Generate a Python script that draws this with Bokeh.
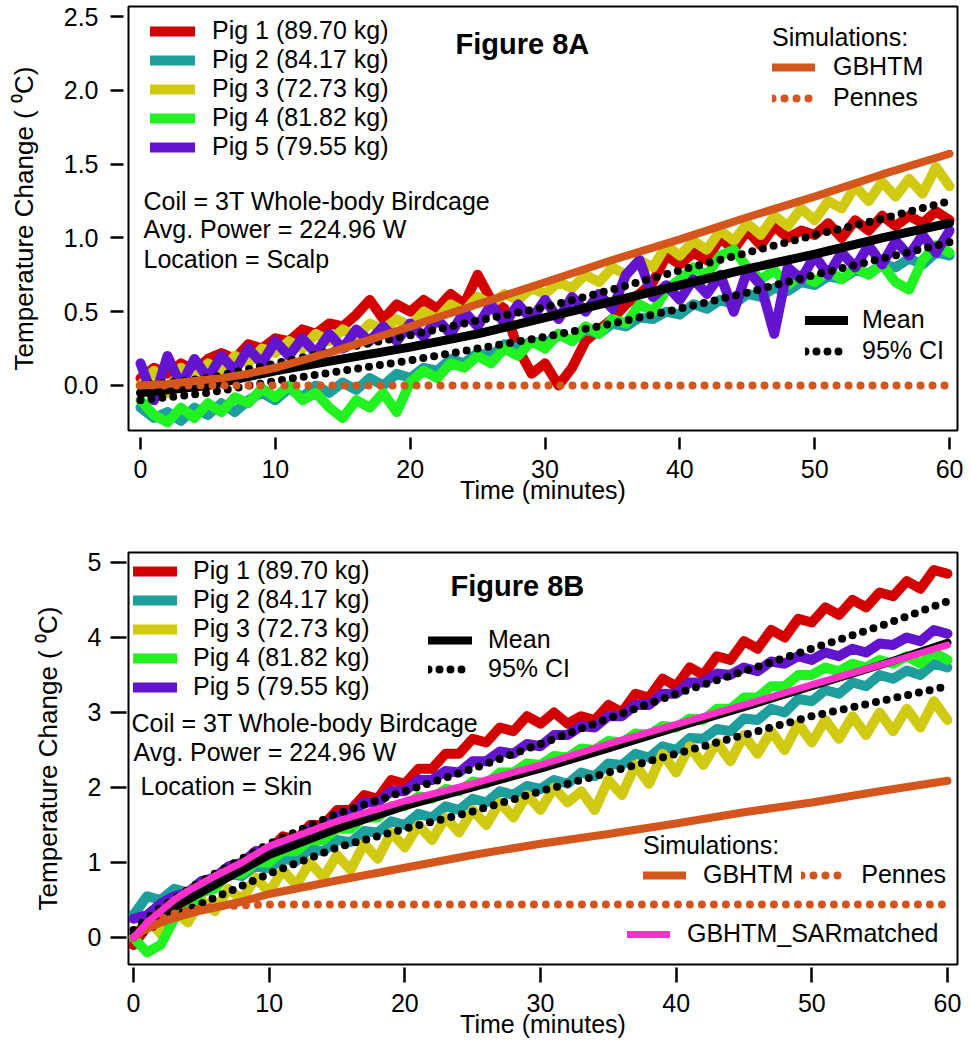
from bokeh.plotting import figure
from bokeh.models import Range1d, FixedTicker, PrintfTickFormatter, Legend, LegendItem, Label
from bokeh.layouts import column
from bokeh.embed import file_html
from bokeh.resources import INLINE

FONT = "Liberation Sans"

# ---------------- data: Figure 8A (scalp) ----------------
minutes = list(range(61))

a_pig1 = [0.05,0.12,0.08,0.15,0.10,0.18,0.22,0.18,0.28,0.25, 0.32,0.30,0.38,0.35,0.42,0.40,0.48,0.58,0.45,0.55,
          0.50,0.58,0.52,0.62,0.55,0.75,0.58,0.52,0.25,0.08, 0.15,0.0,0.12,0.30,0.38,0.45,0.55,0.62,0.70,0.88,
          0.82,0.90,0.85,1.0,0.92,1.05,0.95,1.08,1.0,1.05, 1.02,1.1,1.0,1.12,1.05,1.15,1.08,1.15,1.1,1.18, 1.12]
a_pig2 = [-0.15,-0.22,-0.18,-0.24,-0.15,-0.2,-0.12,-0.18,-0.1,-0.05, -0.1,-0.02,-0.08,0.0,-0.05,0.02,-0.03,0.05,0.0,0.08,
          0.05,0.12,0.1,0.18,0.15,0.22,0.2,0.28,0.25,0.3, 0.28,0.35,0.3,0.38,0.35,0.42,0.4,0.46,0.45,0.5,
          0.48,0.55,0.52,0.58,0.55,0.62,0.6,0.66,0.64,0.7, 0.68,0.74,0.72,0.78,0.76,0.82,0.8,0.86,0.82,0.9, 0.88]
a_pig3 = [0.0,0.1,-0.05,0.12,0.05,0.15,0.1,0.2,0.15,0.25, 0.22,0.3,0.25,0.35,0.3,0.38,0.33,0.42,0.38,0.45,
          0.4,0.5,0.45,0.55,0.5,0.6,0.55,0.62,0.58,0.66, 0.62,0.7,0.66,0.75,0.7,0.8,0.75,0.85,0.8,0.95,
          0.88,0.98,0.92,1.05,0.98,1.1,1.02,1.15,1.08,1.2, 1.12,1.25,1.2,1.35,1.25,1.38,1.28,1.4,1.3,1.48, 1.35]
a_pig4 = [-0.1,-0.2,-0.25,-0.15,-0.22,-0.12,-0.18,-0.08,-0.12,-0.02, -0.08,0.0,-0.1,-0.05,-0.15,-0.22,-0.1,-0.15,-0.05,-0.18,
          0.02,0.1,0.05,0.15,0.12,0.2,0.15,0.25,0.2,0.3, 0.25,0.35,0.3,0.4,0.35,0.45,0.42,0.55,0.5,0.65,
          0.72,0.8,0.75,0.88,0.92,0.8,0.72,0.78,0.68,0.75, 0.7,0.78,0.72,0.8,0.75,0.82,0.7,0.65,0.85,0.95, 0.9]
a_pig5 = [0.15,-0.1,0.2,0.0,0.18,0.05,0.2,0.1,0.25,0.15, 0.3,0.2,0.32,0.22,0.35,0.25,0.38,0.3,0.4,0.3,
          0.42,0.33,0.45,0.35,0.5,0.4,0.55,0.42,0.55,0.45, 0.58,0.45,0.6,0.5,0.62,0.52,0.75,0.85,0.6,0.68,
          0.58,0.72,0.62,0.75,0.5,0.78,0.68,0.35,0.8,0.72, 0.88,0.75,0.9,0.8,0.95,0.82,0.98,0.88,1.02,0.9, 1.05]

a_stat_t = [0, 5, 10, 15, 20, 25, 30, 35, 40, 45, 50, 55, 60]
a_mean   = [-0.05, 0.0, 0.1, 0.18, 0.26, 0.35, 0.46, 0.57, 0.68, 0.79, 0.89, 1.0, 1.1]
a_ci_hi  = [0.0, 0.05, 0.15, 0.25, 0.34, 0.44, 0.53, 0.65, 0.78, 0.9, 1.02, 1.13, 1.25]
a_ci_lo  = [-0.1, -0.05, 0.03, 0.1, 0.17, 0.25, 0.33, 0.42, 0.52, 0.63, 0.75, 0.86, 0.97]

a_sim_t  = [0, 2, 4, 6, 8, 10, 15, 20, 25, 30, 35, 40, 45, 50, 55, 60]
a_gbhtm  = [0.0, 0.01, 0.03, 0.05, 0.08, 0.12, 0.25, 0.4, 0.55, 0.7, 0.85, 0.99, 1.14, 1.28, 1.43, 1.57]
a_pennes = [0.0, 0.0, 0.0, 0.0, 0.0, 0.0, 0.0, 0.0, 0.0, 0.0, 0.0, 0.0, 0.0, 0.0, 0.0, 0.0]

# ---------------- data: Figure 8B (skin) ----------------
b_pig1 = [-0.1,0.15,0.25,0.45,0.5,0.7,0.75,0.9,0.95,1.15, 1.15,1.35,1.3,1.5,1.5,1.7,1.7,1.9,1.85,2.1,
          2.05,2.25,2.25,2.45,2.45,2.65,2.6,2.8,2.75,2.95, 2.85,3.0,2.85,2.95,2.9,3.1,3.0,3.25,3.2,3.45,
          3.35,3.6,3.5,3.75,3.7,3.95,3.85,4.1,4.0,4.25, 4.2,4.4,4.3,4.5,4.4,4.6,4.55,4.75,4.65,4.9, 4.85]
b_pig2 = [0.3,0.55,0.5,0.65,0.6,0.75,0.72,0.85,0.82,0.95, 0.92,1.05,1.02,1.18,1.15,1.3,1.27,1.42,1.4,1.55,
          1.5,1.65,1.6,1.75,1.7,1.85,1.8,1.95,1.9,2.02, 1.98,2.1,2.05,2.2,2.15,2.32,2.3,2.45,2.4,2.55,
          2.5,2.66,2.65,2.78,2.75,2.92,2.9,3.05,3.0,3.18, 3.15,3.3,3.25,3.4,3.35,3.5,3.45,3.56,3.5,3.65, 3.6]
b_pig3 = [0.0,0.25,0.05,0.35,0.2,0.5,0.35,0.65,0.5,0.8, 0.6,0.9,0.7,1.0,0.8,1.1,0.9,1.25,1.05,1.4,
          1.2,1.5,1.3,1.6,1.4,1.7,1.5,1.8,1.6,1.9, 1.7,2.0,1.8,1.95,1.7,2.1,1.9,2.3,2.05,2.45,
          2.2,2.55,2.3,2.6,2.35,2.7,2.45,2.75,2.5,2.85, 2.6,2.9,2.65,2.95,2.7,3.0,2.75,3.05,2.8,3.15, 2.9]
b_pig4 = [0.0,-0.2,-0.1,0.25,0.4,0.6,0.65,0.85,0.85,1.0, 1.0,1.15,1.15,1.3,1.3,1.45,1.45,1.6,1.6,1.75,
          1.75,1.88,1.85,1.98,1.95,2.08,2.05,2.2,2.2,2.32, 2.3,2.42,2.4,2.52,2.5,2.62,2.6,2.72,2.7,2.82,
          2.8,2.92,2.9,3.05,3.05,3.2,3.2,3.35,3.35,3.5, 3.5,3.6,3.55,3.65,3.6,3.7,3.65,3.75,3.65,3.8, 3.7]
b_pig5 = [0.25,0.3,0.45,0.55,0.6,0.75,0.8,0.95,1.0,1.15, 1.15,1.3,1.3,1.45,1.45,1.62,1.65,1.8,1.8,1.95,
          1.95,2.1,2.1,2.22,2.2,2.35,2.35,2.48,2.45,2.58, 2.55,2.7,2.7,2.82,2.8,2.95,2.95,3.1,3.1,3.25,
          3.25,3.4,3.4,3.52,3.5,3.6,3.55,3.68,3.65,3.75, 3.7,3.8,3.75,3.85,3.8,3.92,3.9,4.0,3.95,4.1, 4.05]

b_stat_t = [0, 2, 5, 10, 15, 20, 25, 30, 35, 40, 45, 50, 55, 60]
b_mean   = [0.05, 0.3, 0.6, 1.1, 1.45, 1.75, 2.0, 2.25, 2.52, 2.8, 3.07, 3.35, 3.63, 3.93]
b_ci_hi  = [0.1, 0.4, 0.75, 1.25, 1.65, 1.95, 2.25, 2.58, 2.92, 3.25, 3.55, 3.85, 4.15, 4.48]
b_ci_lo  = [0.0, 0.2, 0.45, 0.85, 1.2, 1.45, 1.68, 1.95, 2.2, 2.45, 2.7, 2.95, 3.15, 3.35]

b_sim_t  = [0, 1, 2, 3, 4, 5, 6, 8, 10, 15, 20, 25, 30, 35, 40, 45, 50, 55, 60]
b_gbhtm  = [0.0, 0.12, 0.2, 0.26, 0.31, 0.36, 0.4, 0.48, 0.58, 0.76, 0.93, 1.1, 1.25, 1.38, 1.52, 1.67, 1.8, 1.95, 2.09]
b_pennes = [0.0, 0.15, 0.25, 0.32, 0.36, 0.39, 0.41, 0.43, 0.44, 0.44, 0.44, 0.44, 0.44, 0.44, 0.44, 0.44, 0.44, 0.44, 0.44]
b_sar    = [0.0, 0.2, 0.35, 0.5, 0.62, 0.72, 0.82, 1.0, 1.22, 1.55, 1.82, 2.05, 2.3, 2.58, 2.84, 3.1, 3.37, 3.63, 3.9]

pig_labels = ["Pig 1 (89.70 kg)", "Pig 2 (84.17 kg)", "Pig 3 (72.73 kg)", "Pig 4 (81.82 kg)", "Pig 5 (79.55 kg)"]
pig_colors = ["#d40000", "#1f9e9e", "#d0ca12", "#22f222", "#6214cf"]
ORANGE = "#d4561c"
PINK = "#ff30c8"
x_ticks = [0, 10, 20, 30, 40, 50, 60]
a_y_ticks = [0.0, 0.5, 1.0, 1.5, 2.0, 2.5]
b_y_ticks = [0, 1, 2, 3, 4, 5]

TXT = "25px"


def style(p, yticks, yfmt, xin, xout, yin, yout, xstand, ystand):
    p.outline_line_color = "black"
    p.outline_line_width = 2
    p.xgrid.visible = False
    p.ygrid.visible = False
    for ax in (p.xaxis[0], p.yaxis[0]):
        ax.axis_line_color = None
        ax.minor_tick_line_color = None
        ax.major_tick_line_color = "black"
        ax.major_tick_line_width = 2.5
        ax.major_label_text_font = FONT
        ax.major_label_text_font_size = TXT
        ax.major_label_text_color = "black"
        ax.axis_label_text_font = FONT
        ax.axis_label_text_font_style = "normal"
        ax.axis_label_text_color = "black"
    p.xaxis[0].ticker = FixedTicker(ticks=x_ticks)
    p.yaxis[0].ticker = FixedTicker(ticks=yticks)
    p.yaxis[0].formatter = PrintfTickFormatter(format=yfmt)
    p.xaxis[0].major_tick_in = xin
    p.xaxis[0].major_tick_out = xout
    p.yaxis[0].major_tick_in = yin
    p.yaxis[0].major_tick_out = yout
    p.xaxis[0].major_label_standoff = xstand
    p.yaxis[0].major_label_standoff = ystand
    p.xaxis[0].axis_label = "Time (minutes)"
    p.xaxis[0].axis_label_text_font_size = TXT
    p.xaxis[0].axis_label_standoff = -5
    p.yaxis[0].axis_label = "Temperature Change ( \u2070C)"
    p.yaxis[0].axis_label_text_font_size = "26px"
    p.yaxis[0].axis_label_standoff = 22


def legend(items, loc, gw, standoff, spacing=0, title=None, title_standoff=0, orientation="vertical"):
    lg = Legend(items=items, location=loc, orientation=orientation,
                glyph_width=gw, glyph_height=28, label_height=28, label_standoff=standoff,
                spacing=spacing, padding=0, margin=0,
                border_line_color=None, background_fill_alpha=0,
                label_text_font=FONT, label_text_font_size=TXT, label_text_color="black")
    if title:
        lg.title = title
        lg.title_text_font = FONT
        lg.title_text_font_size = TXT
        lg.title_text_font_style = "normal"
        lg.title_text_color = "black"
        lg.title_standoff = title_standoff
    return lg


def text(p, x, y, s, size=TXT, bold=False):
    p.add_layout(Label(x=x, y=y, x_units="screen", y_units="screen", text=s,
                       text_font=FONT, text_font_size=size,
                       text_font_style="bold" if bold else "normal",
                       text_baseline="middle", text_align="left", text_color="black"))


# ---------------- Figure 8A ----------------
pa = figure(width=963, height=512, output_backend="svg", toolbar_location=None,
            x_range=Range1d(-0.89, 60.59), y_range=Range1d(-0.305, 2.568),
            min_border_left=128, min_border_right=6, min_border_top=6, min_border_bottom=82)
pa.background_fill_color = "white"
pa.border_fill_color = "white"
style(pa, a_y_ticks, "%.1f", -7, 19, -5, 18, 10, 12)

a_pigs = [a_pig1, a_pig2, a_pig3, a_pig4, a_pig5]
ra = []
for ys, c in zip(a_pigs, pig_colors):
    ra.append(pa.line(minutes, ys, line_color=c, line_width=10, line_join="round", line_cap="round"))
ra_mean = pa.line(a_stat_t, a_mean, line_color="black", line_width=9, line_cap="round")
ra_hi = pa.line(a_stat_t, a_ci_hi, line_color="black", line_width=8, line_dash="0 11", line_cap="round")
pa.line(a_stat_t, a_ci_lo, line_color="black", line_width=8, line_dash="0 11", line_cap="round")
ra_g = pa.line(a_sim_t, a_gbhtm, line_color=ORANGE, line_width=8, line_cap="round")
ra_p = pa.line(a_sim_t, a_pennes, line_color=ORANGE, line_width=8, line_dash="0 12", line_cap="round")

pa.add_layout(legend([LegendItem(label=l, renderers=[r]) for l, r in zip(pig_labels, ra)],
                     (22, 269), 45, 17))
pa.add_layout(legend([LegendItem(label="GBHTM", renderers=[ra_g]), LegendItem(label="Pennes", renderers=[ra_p])],
                     (644, 318), 43, 18, spacing=2, title="Simulations:", title_standoff=-1))
pa.add_layout(legend([LegendItem(label="Mean", renderers=[ra_mean]), LegendItem(label="95% CI", renderers=[ra_hi])],
                     (677, 65), 43, 14, spacing=2))
text(pa, 327, 387, "Figure 8A", size="29px", bold=True)
text(pa, 15, 230, "Coil = 3T Whole-body Birdcage")
text(pa, 15, 202, "Avg. Power = 224.96 W")
text(pa, 15, 172, "Location = Scalp")

# ---------------- Figure 8B ----------------
pb = figure(width=963, height=532, output_backend="svg", toolbar_location=None,
            x_range=Range1d(-0.37, 60.74), y_range=Range1d(-0.36, 5.133),
            min_border_left=128, min_border_right=6, min_border_top=40, min_border_bottom=80)
pb.background_fill_color = "white"
pb.border_fill_color = "white"
style(pb, b_y_ticks, "%d", -3, 18, -2, 18, 11, 9)

b_pigs = [b_pig1, b_pig2, b_pig3, b_pig4, b_pig5]
rb = []
for ys, c in zip(b_pigs, pig_colors):
    rb.append(pb.line(minutes, ys, line_color=c, line_width=10, line_join="round", line_cap="round"))
rb_mean = pb.line(b_stat_t, b_mean, line_color="black", line_width=8, line_cap="round")
rb_hi = pb.line(b_stat_t, b_ci_hi, line_color="black", line_width=8, line_dash="0 11", line_cap="round")
pb.line(b_stat_t, b_ci_lo, line_color="black", line_width=8, line_dash="0 11", line_cap="round")
rb_g = pb.line(b_sim_t, b_gbhtm, line_color=ORANGE, line_width=8, line_cap="round")
rb_p = pb.line(b_sim_t, b_pennes, line_color=ORANGE, line_width=8, line_dash="0 12", line_cap="round")
rb_s = pb.line(b_sim_t, b_sar, line_color=PINK, line_width=7, line_cap="round")

pb.add_layout(legend([LegendItem(label=l, renderers=[r]) for l, r in zip(pig_labels, rb)],
                     (5, 263), 44, 16))
pb.add_layout(legend([LegendItem(label="Mean", renderers=[rb_mean]), LegendItem(label="95% CI", renderers=[rb_hi])],
                     (300, 281), 44, 16))
pb.add_layout(legend([LegendItem(label="GBHTM", renderers=[rb_g]), LegendItem(label="Pennes", renderers=[rb_p])],
                     (515, 75), 43, 17, spacing=8, title="Simulations:", title_standoff=-10,
                     orientation="horizontal"))
pb.add_layout(legend([LegendItem(label="GBHTM_SARmatched", renderers=[rb_s])],
                     (499, 16), 43, 17))
text(pb, 322, 379, "Figure 8B", size="29px", bold=True)
text(pb, 3, 242, "Coil = 3T Whole-body Birdcage")
text(pb, 5, 213, "Avg. Power = 224.96 W")
text(pb, 12, 179, "Location = Skin")

layout = column(pa, pb)
open("out.html", "w").write(file_html(layout, INLINE))
